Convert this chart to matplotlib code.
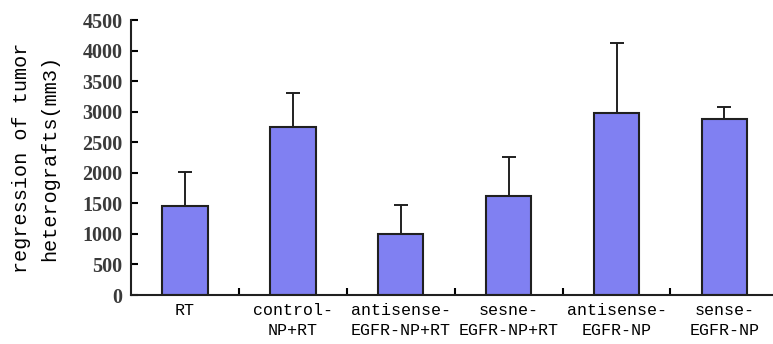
import numpy as np
import matplotlib.pyplot as plt
from matplotlib.ticker import FixedLocator

categories = ["RT", "control-\nNP+RT", "antisense-\nEGFR-NP+RT", "sesne-\nEGFR-NP+RT",
              "antisense-\nEGFR-NP", "sense-\nEGFR-NP"]
values = [1450, 2755, 1005, 1620, 2985, 2880]
errors = [565, 555, 475, 640, 1145, 190]

plt.rcParams["font.family"] = ["Liberation Mono", "DejaVu Sans Mono"]

fig = plt.figure(figsize=(7.73, 3.44), dpi=100)
ax = fig.add_axes([0.1695, 0.1424, 0.8305, 0.7994])

x = np.arange(len(categories))
ax.bar(x, values, width=0.42, color="#8080f2", edgecolor="#202020", linewidth=1.5, zorder=2)
ax.errorbar(x, values, yerr=[np.zeros(len(errors)), errors], fmt="none",
            ecolor="#202020", elinewidth=1.4, capsize=5, capthick=1.4, zorder=1)

ax.set_xlim(-0.5, 5.45)
ax.set_ylim(0, 4500)
ax.set_yticks(range(0, 4501, 500))
ax.set_xticks(x)
ax.set_xticklabels(categories, fontsize=12, linespacing=1.35)
ax.xaxis.set_minor_locator(FixedLocator(x[:-1] + 0.5))
ax.tick_params(axis="x", which="major", length=0, pad=6)
ax.tick_params(axis="x", which="minor", direction="in", length=5, width=1.5)
ax.tick_params(axis="y", direction="in", length=5, width=1.5, labelsize=14.5, pad=6)
for lab in ax.get_yticklabels():
    lab.set_family("Liberation Serif")
    lab.set_fontweight("bold")
    lab.set_color("#3a3a3a")

for side in ["top", "right"]:
    ax.spines[side].set_visible(False)
for side in ["left", "bottom"]:
    ax.spines[side].set_linewidth(1.5)
    ax.spines[side].set_color("#202020")

ax.set_ylabel("regression of tumor\nheterografts(mm3)", fontsize=14.5, linespacing=1.6, labelpad=17)

fig.savefig("out.png", dpi=100)
